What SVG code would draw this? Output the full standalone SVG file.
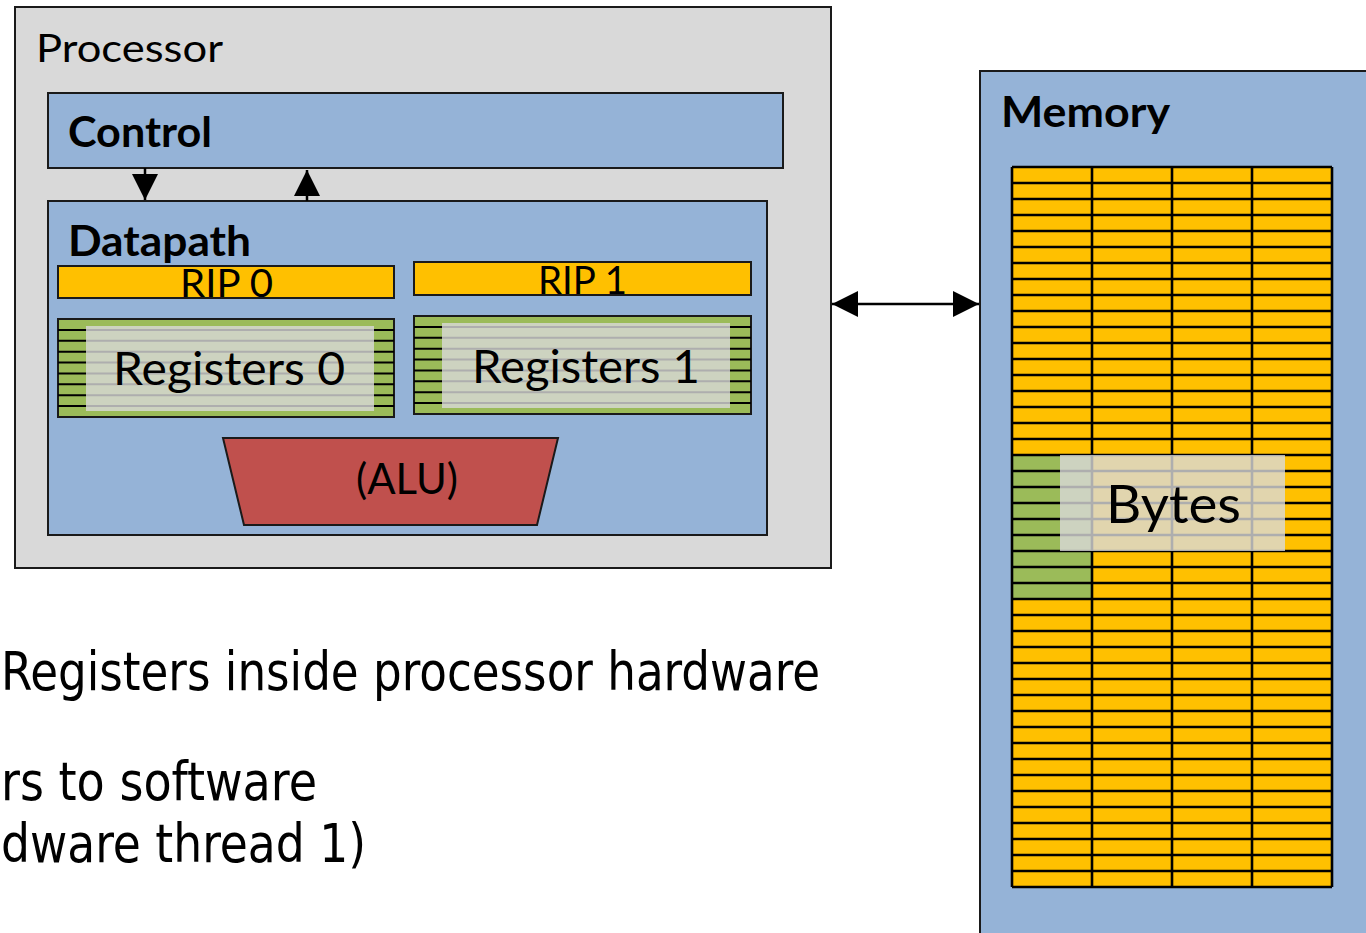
<svg xmlns="http://www.w3.org/2000/svg" width="1366" height="933" viewBox="0 0 1366 933">
<style>
.box{stroke:#1a1a1a;stroke-width:2}
.grey{fill:#D9D9D9}
.blue{fill:#95B3D7}
.yellow{fill:#FFC000}
.green{fill:#9BBB59}
.grid{fill:none;stroke:#000;stroke-width:2.6}
.veil{fill:#D9D9D9;opacity:0.8}
.lbl{font-family:Lato,"Open Sans","Liberation Sans",sans-serif;fill:#000}
.bold{font-weight:bold}
.note{font-family:"Liberation Sans Narrow","DejaVu Sans Condensed","Liberation Sans",sans-serif;font-size:54px;fill:#000}
.conn{stroke:#000;stroke-width:2.5;fill:none}
</style>
<defs>
<marker id="ah" markerUnits="userSpaceOnUse" markerWidth="26" markerHeight="26" refX="26" refY="13" orient="auto-start-reverse">
<path d="M0,0 L26,13 L0,26 z" fill="#000"/>
</marker>
</defs>

<g id="processor">
<rect class="box grey" x="15" y="7" width="816" height="561"/>
<text class="lbl" x="36" y="62" font-size="38" textLength="187" lengthAdjust="spacingAndGlyphs">Processor</text>
</g>

<g id="control">
<rect class="box blue" x="48" y="93" width="735" height="75"/>
<text class="lbl bold" x="68" y="147" font-size="42" textLength="144" lengthAdjust="spacingAndGlyphs">Control</text>
</g>

<g id="datapath">
<rect class="box blue" x="48" y="201" width="719" height="334"/>
<text class="lbl bold" x="68" y="256" font-size="42" textLength="183" lengthAdjust="spacingAndGlyphs">Datapath</text>
</g>

<g id="rip0">
<rect class="box yellow" x="58" y="266" width="336" height="32"/>
<text class="lbl" x="180" y="297" font-size="39" textLength="93" lengthAdjust="spacingAndGlyphs">RIP 0</text>
</g>

<g id="rip1">
<rect class="box yellow" x="414" y="262" width="337" height="33"/>
<text class="lbl" x="538" y="294" font-size="39" textLength="89" lengthAdjust="spacingAndGlyphs">RIP 1</text>
</g>

<g id="registers0">
<rect class="box green" x="58" y="319" width="336" height="98"/>
<path class="grid" style="stroke-width:2" d="M58 329.9H394M58 340.8H394M58 351.7H394M58 362.6H394M58 373.4H394M58 384.3H394M58 395.2H394M58 406.1H394"/>
<rect class="veil" x="86" y="326" width="288" height="85"/>
<text class="lbl" x="113" y="385" font-size="46" textLength="232" lengthAdjust="spacingAndGlyphs">Registers 0</text>
</g>

<g id="registers1">
<rect class="box green" x="414" y="316" width="337" height="98"/>
<path class="grid" style="stroke-width:2" d="M414 326.9H751M414 337.8H751M414 348.7H751M414 359.6H751M414 370.4H751M414 381.3H751M414 392.2H751M414 403.1H751"/>
<rect class="veil" x="442" y="323" width="288" height="85"/>
<text class="lbl" x="472" y="383" font-size="46" textLength="228" lengthAdjust="spacingAndGlyphs">Registers 1</text>
</g>

<g id="alu">
<polygon class="box" fill="#C0504D" points="223,438 558,438 537,525 244,525"/>
<text class="lbl" x="356" y="494" font-size="43" textLength="102" lengthAdjust="spacingAndGlyphs">(ALU)</text>
</g>

<g id="memory">
<rect class="box blue" x="980" y="71" width="400" height="880"/>
<text class="lbl bold" x="1001" y="127" font-size="42" textLength="169" lengthAdjust="spacingAndGlyphs">Memory</text>
<rect class="yellow" x="1012" y="167" width="320" height="720"/>
<rect class="green" x="1012" y="455" width="80" height="144"/>
<path class="grid" d="M1012 167H1332M1012 183H1332M1012 199H1332M1012 215H1332M1012 231H1332M1012 247H1332M1012 263H1332M1012 279H1332M1012 295H1332M1012 311H1332M1012 327H1332M1012 343H1332M1012 359H1332M1012 375H1332M1012 391H1332M1012 407H1332M1012 423H1332M1012 439H1332M1012 455H1332M1012 471H1332M1012 487H1332M1012 503H1332M1012 519H1332M1012 535H1332M1012 551H1332M1012 567H1332M1012 583H1332M1012 599H1332M1012 615H1332M1012 631H1332M1012 647H1332M1012 663H1332M1012 679H1332M1012 695H1332M1012 711H1332M1012 727H1332M1012 743H1332M1012 759H1332M1012 775H1332M1012 791H1332M1012 807H1332M1012 823H1332M1012 839H1332M1012 855H1332M1012 871H1332M1012 887H1332M1012 167V887M1092 167V887M1172 167V887M1252 167V887M1332 167V887"/>
<rect class="veil" x="1060" y="455" width="225" height="96"/>
<text class="lbl" x="1106" y="523" font-size="53" textLength="135" lengthAdjust="spacingAndGlyphs">Bytes</text>
</g>

<g id="connectors">
<line class="conn" x1="145" y1="168" x2="145" y2="200" marker-end="url(#ah)"/>
<line class="conn" x1="307" y1="201" x2="307" y2="170" marker-end="url(#ah)"/>
<line class="conn" x1="832" y1="304" x2="979" y2="304" marker-start="url(#ah)" marker-end="url(#ah)"/>
</g>

<g id="notes">
<text class="note" x="1" y="690" textLength="819" lengthAdjust="spacingAndGlyphs">Registers inside processor hardware</text>
<text class="note" x="1" y="800" textLength="316" lengthAdjust="spacingAndGlyphs">rs to software</text>
<text class="note" x="1" y="862" textLength="365" lengthAdjust="spacingAndGlyphs">dware thread 1)</text>
</g>
</svg>
